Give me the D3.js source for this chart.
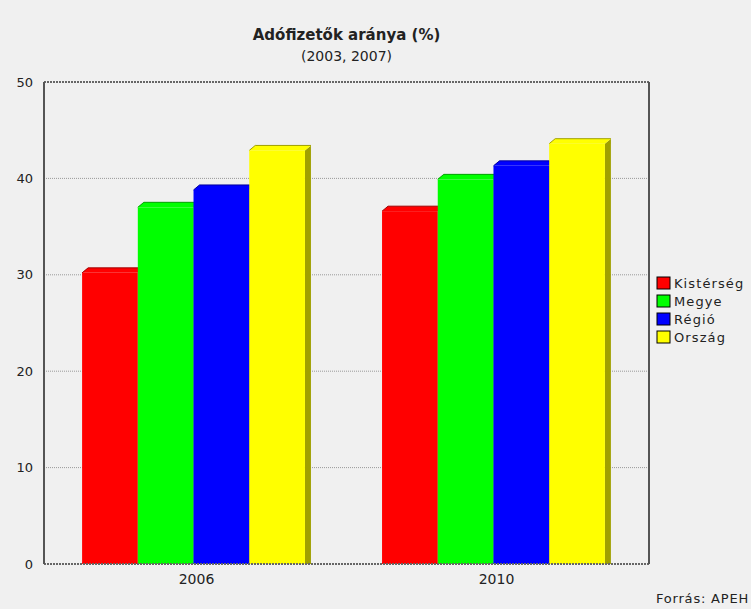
<!DOCTYPE html>
<html>
<head>
<meta charset="utf-8">
<script src="https://cdn.jsdelivr.net/npm/d3@7"></script>
<style>
  body { margin: 0; background: #f0f0f0; }
  text { font-family: "DejaVu Sans", sans-serif; fill: #222; }
</style>
</head>
<body>
<div id="chart"></div>
<script>
// Adófizetők aránya (%) - years and series
var years = ["2006", "2010"];
var seriesNames = ["Kistérség", "Megye", "Régió", "Ország"];
var seriesColors = ["#ff0000", "#00ff00", "#0000ff", "#ffff00"];
var kisterseg = [30.2, 36.6];
var megye = [37.0, 39.9];
var regio = [38.8, 41.3];
var orszag = [42.9, 43.6];
var yTicks = [0, 10, 20, 30, 40, 50];

var svgWidth = 751, svgHeight = 609;
var margin = { top: 82, right: 102, bottom: 45, left: 44 };
var width = svgWidth - margin.left - margin.right;
var height = svgHeight - margin.top - margin.bottom;
var depthX = 6, depthY = 5;

var svg = d3.select("#chart").append("svg")
    .attr("width", svgWidth)
    .attr("height", svgHeight)
    .style("background", "#f0f0f0");

var chart = svg.append("g")
    .attr("transform", "translate(" + margin.left + "," + margin.top + ")");

var data = years.map(function(y, i) {
    return { year: y, values: [kisterseg[i], megye[i], regio[i], orszag[i]] };
});

var x0 = d3.scaleBand().domain(years).range([0, width])
    .paddingInner(0.237).paddingOuter(0.127);
var x1 = d3.scaleBand().domain(d3.range(seriesNames.length))
    .range([0, x0.bandwidth() - depthX]);
var y = d3.scaleLinear().domain([0, 50]).range([height, 0]);

// gridlines
chart.selectAll(".grid").data(yTicks.filter(function(t) { return t > 0 && t < 50; }))
    .enter().append("line")
    .attr("x1", 0).attr("x2", width)
    .attr("y1", function(d) { return y(d); })
    .attr("y2", function(d) { return y(d); })
    .attr("stroke", "#999").attr("stroke-width", 1)
    .attr("stroke-dasharray", "1,1");

// bars with 3d side
var groups = chart.selectAll(".grp").data(data).enter().append("g")
    .attr("transform", function(d) { return "translate(" + x0(d.year) + ",0)"; });

groups.each(function(d) {
    var g = d3.select(this);
    d.values.forEach(function(v, i) {
        var c = seriesColors[i];
        var dark = d3.rgb(c).darker(1.3);
        var bx = x1(i), bw = x1.bandwidth(), top = y(v), bot = y(0);
        g.append("polygon")
            .attr("points", [[bx + bw, top], [bx + bw + depthX, top - depthY],
                [bx + bw + depthX, bot], [bx + bw, bot]].join(" "))
            .attr("fill", dark);
        g.append("polygon")
            .attr("points", [[bx, top], [bx + depthX, top - depthY],
                [bx + bw + depthX, top - depthY], [bx + bw, top]].join(" "))
            .attr("fill", c);
        g.append("polyline")
            .attr("points", [[bx, top], [bx + depthX, top - depthY],
                [bx + bw + depthX, top - depthY]].join(" "))
            .attr("fill", "none").attr("stroke", dark).attr("stroke-width", 1);
        g.append("rect")
            .attr("x", bx).attr("y", top)
            .attr("width", bw).attr("height", bot - top)
            .attr("fill", c);
    });
});

// frame
chart.append("line").attr("x1", 0).attr("x2", width).attr("y1", 0).attr("y2", 0)
    .attr("stroke", "#666").attr("stroke-width", 2).attr("stroke-dasharray", "2,1");
chart.append("line").attr("x1", 0).attr("x2", width).attr("y1", height).attr("y2", height)
    .attr("stroke", "#666").attr("stroke-width", 2).attr("stroke-dasharray", "2,1");
chart.append("line").attr("x1", 0).attr("x2", 0).attr("y1", 0).attr("y2", height)
    .attr("stroke", "#555").attr("stroke-width", 2);
chart.append("line").attr("x1", width).attr("x2", width).attr("y1", 0).attr("y2", height)
    .attr("stroke", "#555").attr("stroke-width", 2);

// axes (labels only)
var leftAxis = d3.axisLeft(y).tickValues(yTicks).tickSize(0).tickPadding(11);
var yAxis = chart.append("g").call(leftAxis);
yAxis.select(".domain").remove();
yAxis.selectAll("text").style("font-size", "13px").style("font-family", "DejaVu Sans").attr("fill", "#222");

var bottomAxis = d3.axisBottom(x0).tickSize(0).tickPadding(10);
var xAxis = chart.append("g").attr("transform", "translate(0," + height + ")").call(bottomAxis);
xAxis.select(".domain").remove();
xAxis.selectAll("text").style("font-size", "14px").style("font-family", "DejaVu Sans").attr("fill", "#222");

// title
svg.append("text")
    .attr("x", margin.left + width / 2).attr("y", 40)
    .attr("text-anchor", "middle")
    .style("font-size", "15px").style("font-weight", "bold")
    .text("Adófizetők aránya (%)");
svg.append("text")
    .attr("x", margin.left + width / 2).attr("y", 61)
    .attr("text-anchor", "middle")
    .style("font-size", "14px")
    .text("(2003, 2007)");

// legend
var legend = svg.append("g").attr("transform", "translate(657,277)");
seriesNames.forEach(function(name, i) {
    var row = legend.append("g").attr("transform", "translate(0," + (i * 18) + ")");
    row.append("rect").attr("width", 13).attr("height", 12)
        .attr("fill", seriesColors[i]).attr("stroke", "#000").attr("stroke-width", 1);
    row.append("text").attr("x", 17).attr("y", 11)
        .style("font-size", "13px").style("letter-spacing", "1.1px").text(name);
});

svg.append("text")
    .attr("x", 749).attr("y", 603)
    .attr("text-anchor", "end")
    .style("font-size", "13px").style("letter-spacing", "0.8px")
    .text("Forrás: APEH");
</script>
</body>
</html>
